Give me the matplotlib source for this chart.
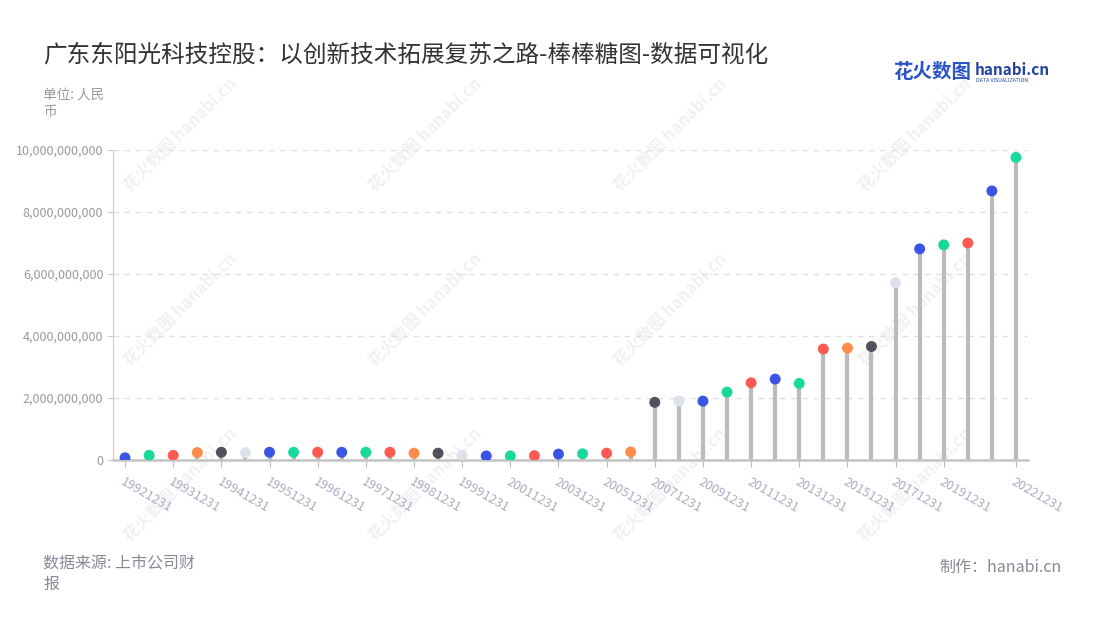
import numpy as np
import matplotlib
matplotlib.use('Agg')
import matplotlib.pyplot as plt

plt.rcParams['font.family'] = ['Noto Sans CJK SC', 'DejaVu Sans']

# report dates (half-year data up to 1999, yearly afterwards)
dates = ['19921231', '19930630', '19931231', '19940630', '19941231', '19950630',
         '19951231', '19960630', '19961231', '19970630', '19971231', '19980630',
         '19981231', '19990630', '19991231', '20001231', '20011231', '20021231',
         '20031231', '20041231', '20051231', '20061231', '20071231', '20081231',
         '20091231', '20101231', '20111231', '20121231', '20131231', '20141231',
         '20151231', '20161231', '20171231', '20181231', '20191231', '20201231',
         '20211231', '20221231']

# values in billions of RMB
values_bn = [0.07, 0.15, 0.15, 0.24, 0.25, 0.24, 0.25, 0.25, 0.25, 0.25,
             0.25, 0.25, 0.22, 0.22, 0.15, 0.13, 0.13, 0.14, 0.19, 0.20,
             0.22, 0.26, 1.86, 1.90, 1.90, 2.19, 2.49, 2.61, 2.47, 3.58,
             3.61, 3.66, 5.72, 6.81, 6.94, 7.00, 8.68, 9.76]
values = np.array(values_bn) * 1e9

palette = ['#3a55e6', '#19d99a', '#ff5a52', '#ff8c4b', '#52505c', '#dde1ea',
           '#3a55e6', '#19d99a', '#ff5a52']
colors = [palette[i % len(palette)] for i in range(len(values))]

label_idx = list(range(0, 35, 2)) + [37]

fig = plt.figure(figsize=(11, 6.2), dpi=100)
W, H = 1100, 620

# watermarks
for cx in [180, 425, 670, 915]:
    for cy in [135, 310, 485]:
        fig.text(cx / W, 1 - cy / H, '花火数图 hanabi.cn', rotation=45,
                 ha='center', va='center', fontsize=12, fontweight='bold',
                 color='#f1f1f1', zorder=-1)

ax = fig.add_axes([113 / W, 160 / H, 915 / W, 310 / H])
ax.set_facecolor('none')

x = np.arange(len(values))
ax.vlines(x, 0, values, color='#bbbbbb', lw=3, zorder=2)
ax.scatter(x, values, s=62, c=colors, zorder=3, edgecolors='none')

ax.set_xlim(-0.5, len(values) - 0.5)
ax.set_ylim(0, 1e10)

ax.set_yticks(np.arange(0, 1.01e10, 2e9))
ax.set_yticklabels(['{:,}'.format(int(v)) for v in np.arange(0, 1.01e10, 2e9)])
ax.yaxis.grid(True, color='#e0e0e0', lw=1, linestyle=(0, (4, 4)))
ax.set_axisbelow(True)

ax.set_xticks(label_idx)
ax.set_xticklabels([dates[i] for i in label_idx], rotation=-30, ha='left',
                   va='top', rotation_mode='anchor')

for s in ['top', 'right']:
    ax.spines[s].set_visible(False)
ax.spines['left'].set_color('#cccccc')
ax.spines['bottom'].set_color('#c4c4c4')
ax.spines['bottom'].set_linewidth(1.8)
ax.tick_params(axis='y', length=4, color='#cccccc', labelcolor='#999999',
               labelsize=9, pad=3)
ax.tick_params(axis='x', length=5, color='#bbbbbb', labelcolor='#a9adc2',
               labelsize=9.2, pad=6)

# texts
fig.text(43 / W, 1 - 55 / H, '广东东阳光科技控股：以创新技术拓展复苏之路-棒棒糖图-数据可视化',
         fontsize=17, color='#333333', va='center')
fig.text(43 / W, 1 - 88 / H, '单位: 人民\n币', fontsize=9.8, color='#999999',
         va='top', linespacing=1.25)
fig.text(43 / W, 1 - 556 / H, '数据来源: 上市公司财\n报', fontsize=11.5,
         color='#888899', va='top', linespacing=1.25)
fig.text(1062 / W, 1 - 567 / H, '制作：hanabi.cn', fontsize=11.5,
         color='#888899', va='center', ha='right')

# logo
fig.text(893 / W, 1 - 73 / H, '花火数图', fontsize=14, fontweight='bold',
         color='#2b54c6', va='center')
fig.text(975 / W, 1 - 70 / H, 'hanabi.cn', fontsize=11, fontweight='bold',
         color='#22449e', va='center')
fig.text(976 / W, 1 - 80 / H, 'DATA VISUALIZATION', fontsize=3.8,
         color='#22449e', va='center')

fig.savefig('out.png', dpi=100, facecolor='white')
